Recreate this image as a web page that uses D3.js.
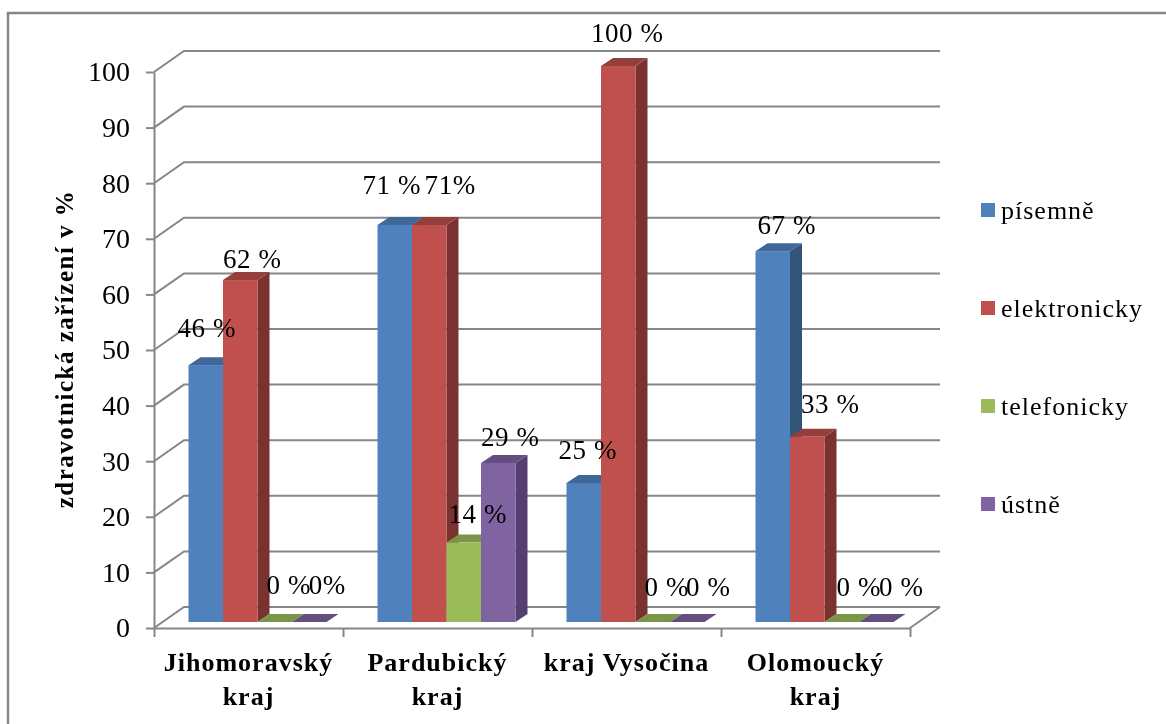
<!DOCTYPE html>
<html>
<head>
<meta charset="utf-8">
<script src="https://d3js.org/d3.v7.min.js"></script>
<style>
html, body { margin: 0; padding: 0; background: #fff; }
svg { display: block; filter: blur(0.45px); }
text { font-family: "Liberation Serif", serif; fill: #000; }
.axis path, .axis line { stroke: #868686; stroke-width: 2; }
</style>
</head>
<body>
<div id="chart"></div>
<script>
// data
const regions = ["Jihomoravský kraj", "Pardubický kraj", "kraj Vysočina", "Olomoucký kraj"];
const seriesNames = ["písemně", "elektronicky", "telefonicky", "ústně"];
const pisemne = [46.2, 71.4, 25, 66.7];
const elektronicky = [61.5, 71.4, 100, 33.3];
const telefonicky = [0, 14.3, 0, 0];
const ustne = [0, 28.6, 0, 0];
const valueLabels = [
    ["46 %", "62 %", "0 %", "0%"],
    ["71 %", "71%", "14 %", "29 %"],
    ["25 %", "100 %", "0 %", "0 %"],
    ["67 %", "33 %", "0 %", "0 %"]
];
const yTicks = [0, 10, 20, 30, 40, 50, 60, 70, 80, 90, 100];

const width = 1166, height = 724;
const seriesValues = [pisemne, elektronicky, telefonicky, ustne];

// colors: front, top, side
const colors = [
    {front: "#4f81bd", top: "#3f6797", side: "#335579"},
    {front: "#c0504d", top: "#953f3c", side: "#7a3230"},
    {front: "#9bbb59", top: "#7a9448", side: "#637a3a"},
    {front: "#8064a2", top: "#644e80", side: "#553f70"}
];

// hand moved data labels in the original, offset from bar center / bar top
const labelNudge = [
    [[1, -38], [12, -22], [14, -37], [18, -37]],
    [[-3, -40], [21, -40], [14, -29], [12, -26]],
    [[4, -33], [9, -33], [14, -35], [21, -35]],
    [[14, -27], [23, -33], [17, -35], [25, -35]]
];

const svg = d3.select("#chart").append("svg")
    .attr("width", width)
    .attr("height", height);

// outer frame, open on the right and at the bottom
svg.append("path")
    .attr("d", "M8,724V13H1166")
    .attr("fill", "none")
    .attr("stroke", "#868686")
    .attr("stroke-width", 2.5);

// Scales
const x = d3.scaleBand().domain(d3.range(regions.length)).range([154, 910]);
const xInner = d3.scaleBand().domain(d3.range(seriesNames.length)).range([34.5, 172.5]);
const y = d3.scaleLinear().domain([0, 100]).range([628, 72]);
const yBar = d3.scaleLinear().domain([0, 100]).range([622, 66]);

const wall = {dx: 30, dy: -21};
const depth = {dx: 12, dy: -8};

// gridlines on the back wall + the slanted bit on the side wall
svg.append("g").selectAll("path")
    .data(yTicks)
    .join("path")
    .attr("d", d => "M154," + y(d) + "L" + (154 + wall.dx) + "," + (y(d) + wall.dy) + "H" + (910 + wall.dx))
    .attr("fill", "none")
    .attr("stroke", "#868686")
    .attr("stroke-width", 2);

// floor edge on the right
svg.append("line")
    .attr("x1", 910).attr("y1", y(0))
    .attr("x2", 910 + wall.dx).attr("y2", y(0) + wall.dy)
    .attr("stroke", "#868686")
    .attr("stroke-width", 2);

// Axes
const yAxis = d3.axisLeft(y).tickValues(yTicks).tickSize(8).tickPadding(16).tickSizeOuter(0);
const yGroup = svg.append("g")
    .attr("class", "axis")
    .attr("transform", "translate(154,0)")
    .call(yAxis);
yGroup.selectAll("text")
    .style("font-family", '"Liberation Serif", serif')
    .style("font-size", "28px")
    .attr("fill", "#000");

const xEdges = d3.scaleLinear().domain([0, regions.length]).range([154, 910]);
const xGroup = svg.append("g")
    .attr("class", "axis")
    .attr("transform", "translate(0," + y(0) + ")")
    .call(d3.axisBottom(xEdges).ticks(regions.length).tickSize(9).tickSizeOuter(0).tickFormat(""));

// category labels, wrapped by hand like the original
const wrapped = [["Jihomoravský", "kraj"], ["Pardubický", "kraj"], ["kraj Vysočina"], ["Olomoucký", "kraj"]];
const catLabels = svg.append("g").selectAll("text")
    .data(wrapped)
    .join("text")
    .attr("text-anchor", "middle")
    .attr("font-weight", "bold")
    .attr("font-size", 26)
    .attr("letter-spacing", 1)
    .attr("y", 671);
catLabels.selectAll("tspan")
    .data((d, i) => d.map(t => ({t: t, i: i})))
    .join("tspan")
    .attr("x", d => x(d.i) + x.bandwidth() / 2)
    .attr("dy", (d, j) => j == 0 ? 0 : 34)
    .text(d => d.t);

// y title
svg.append("text")
    .attr("transform", "translate(73,349) rotate(-90)")
    .attr("text-anchor", "middle")
    .attr("font-weight", "bold")
    .attr("font-size", 25)
    .attr("letter-spacing", 1.5)
    .text("zdravotnická zařízení v %");

// bars: side, top and front faces for each one
const bw = xInner.bandwidth();
regions.forEach((region, r) => {
    const g = svg.append("g");
    seriesNames.forEach((name, s) => {
        const v = seriesValues[s][r];
        const left = x(r) + xInner(s);
        const top = yBar(v);
        const bottom = yBar(0);
        if (v > 0) {
            g.append("path")
                .attr("d", d3.line()([[left + bw, top], [left + bw + depth.dx, top + depth.dy], [left + bw + depth.dx, bottom + depth.dy], [left + bw, bottom]]) + "Z")
                .attr("fill", colors[s].side);
        }
        g.append("path")
            .attr("d", d3.line()([[left, top], [left + depth.dx, top + depth.dy], [left + bw + depth.dx, top + depth.dy], [left + bw, top]]) + "Z")
            .attr("fill", colors[s].top);
        if (v > 0) {
            g.append("rect")
                .attr("x", left)
                .attr("y", top)
                .attr("width", bw)
                .attr("height", bottom - top)
                .attr("fill", colors[s].front);
        }
    });
});

// value labels go on top of everything
regions.forEach((region, r) => {
    seriesNames.forEach((name, s) => {
        const v = seriesValues[s][r];
        svg.append("text")
            .attr("x", x(r) + xInner(s) + bw / 2 + labelNudge[r][s][0])
            .attr("y", yBar(v) + labelNudge[r][s][1])
            .attr("dy", "0.35em")
            .attr("text-anchor", "middle")
            .attr("font-size", 27)
            .attr("letter-spacing", 0.6)
            .text(valueLabels[r][s]);
    });
});

// Legend
const legendY = d3.scalePoint().domain(seriesNames).range([210, 504]);
const legend = svg.append("g").selectAll("g")
    .data(seriesNames)
    .join("g")
    .attr("transform", d => "translate(981," + legendY(d) + ")");
legend.append("rect")
    .attr("y", -7)
    .attr("width", 14)
    .attr("height", 14)
    .attr("fill", (d, i) => colors[i].front);
legend.append("text")
    .attr("x", 20)
    .attr("y", 9)
    .attr("font-size", 26)
    .attr("letter-spacing", 1)
    .text(d => d);
</script>
</body>
</html>
